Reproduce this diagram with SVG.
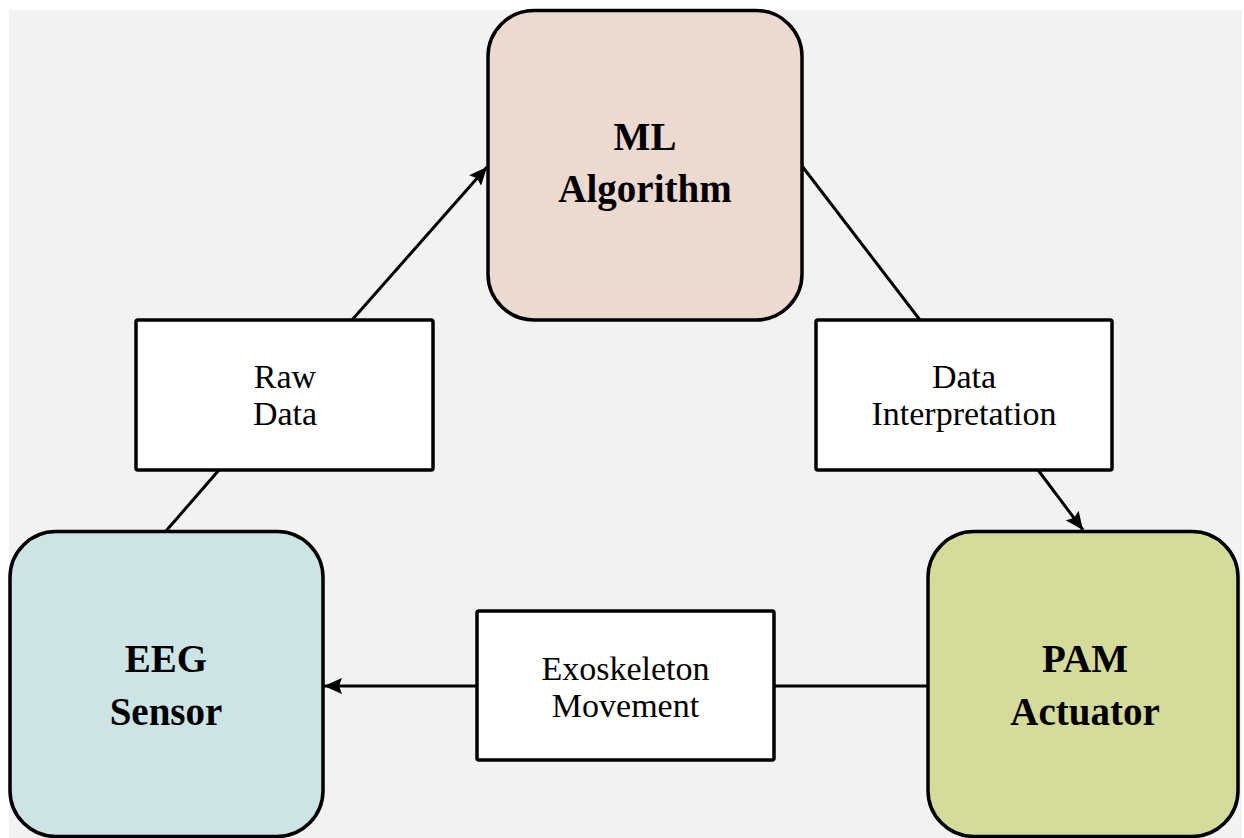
<svg xmlns="http://www.w3.org/2000/svg" width="1244" height="838" viewBox="0 0 1244 838">
  <style>
    .node { stroke: #000; stroke-width: 3.5; }
    .label-box { fill: #fff; stroke: #000; stroke-width: 3.5; }
    .link { stroke: #000; stroke-width: 3; fill: none; }
    .title { font-family: "Liberation Serif", "Times New Roman", serif; font-weight: bold; font-size: 39px; fill: #000; text-anchor: middle; }
    .caption { font-family: "Liberation Serif", "Times New Roman", serif; font-size: 34px; fill: #000; text-anchor: middle; }
  </style>
  <defs>
    <marker id="arrow" markerUnits="userSpaceOnUse" markerWidth="19" markerHeight="16" refX="18" refY="8" orient="auto">
      <path d="M0,0 L18,8 L0,16 L3,8 z" fill="#000"/>
    </marker>
  </defs>

  <!-- backdrop -->
  <rect x="9" y="10" width="1233" height="828" fill="#f2f2f2"/>

  <!-- connectors -->
  <g id="connectors">
    <line class="link" x1="166" y1="531" x2="219" y2="470"/>
    <line class="link" x1="352" y1="320" x2="487" y2="167" marker-end="url(#arrow)"/>
    <line class="link" x1="802" y1="166" x2="920" y2="320"/>
    <line class="link" x1="1038" y1="470" x2="1083" y2="530" marker-end="url(#arrow)"/>
    <line class="link" x1="928" y1="686" x2="774" y2="686"/>
    <line class="link" x1="477" y1="686" x2="324" y2="686" marker-end="url(#arrow)"/>
  </g>

  <!-- main nodes -->
  <g id="ml-algorithm">
    <rect class="node" x="488" y="10.5" width="314" height="309.5" rx="46" fill="#ecdad0"/>
    <text class="title" x="645" y="150">ML</text>
    <text class="title" x="645" y="202">Algorithm</text>
  </g>
  <g id="eeg-sensor">
    <rect class="node" x="10" y="531.5" width="313" height="305" rx="46" fill="#cde4e5"/>
    <text class="title" x="166" y="672">EEG</text>
    <text class="title" x="166" y="725">Sensor</text>
  </g>
  <g id="pam-actuator">
    <rect class="node" x="928" y="531.5" width="310" height="305" rx="46" fill="#d5db99"/>
    <text class="title" x="1085" y="672">PAM</text>
    <text class="title" x="1085" y="725">Actuator</text>
  </g>

  <!-- flow labels -->
  <g id="raw-data">
    <rect class="label-box" x="136" y="320" width="297" height="150" rx="2"/>
    <text class="caption" x="285" y="388">Raw</text>
    <text class="caption" x="285" y="425">Data</text>
  </g>
  <g id="data-interpretation">
    <rect class="label-box" x="816" y="320" width="296" height="150" rx="2"/>
    <text class="caption" x="964" y="388">Data</text>
    <text class="caption" x="964" y="425">Interpretation</text>
  </g>
  <g id="exoskeleton-movement">
    <rect class="label-box" x="477" y="611" width="297" height="149" rx="2"/>
    <text class="caption" x="625.5" y="680">Exoskeleton</text>
    <text class="caption" x="625.5" y="717">Movement</text>
  </g>
</svg>
